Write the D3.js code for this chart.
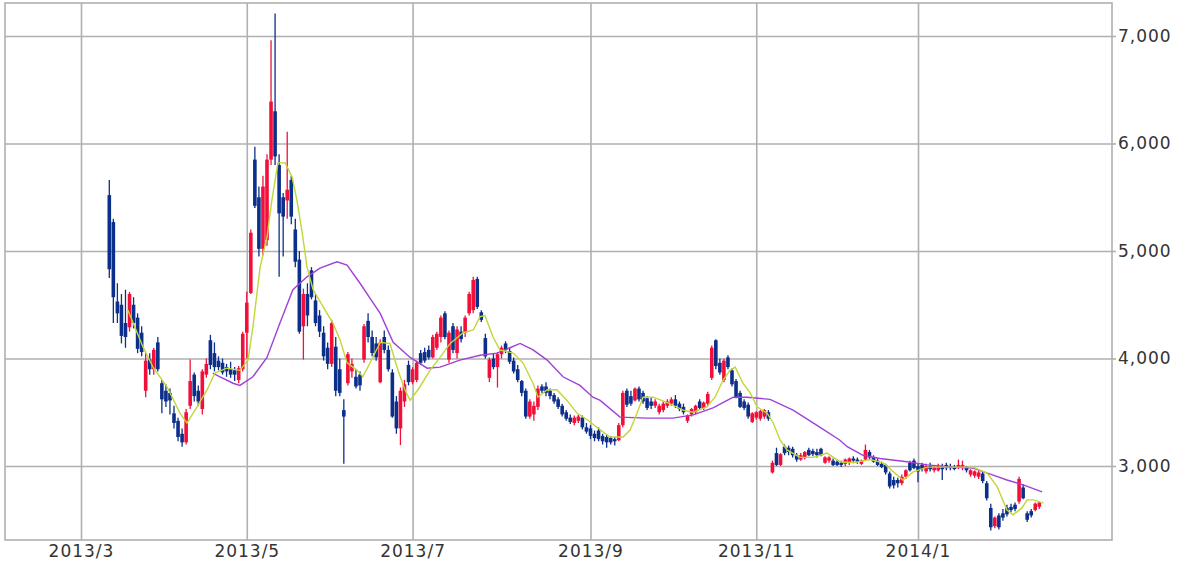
<!DOCTYPE html>
<html lang="ja">
<head>
<meta charset="utf-8">
<title>Stock chart 2013/3 - 2014/2</title>
<script src="https://cdn.jsdelivr.net/npm/d3@7"></script>
<style>
  body { margin: 0; background: #fff; }
  .axis text { font: 17px "DejaVu Sans", sans-serif; fill: #333; letter-spacing: 1px; }
  .axis path { display: none; }
  .axis line, .grid line { stroke: #b0b0b0; stroke-width: 1.6; }
  .grid path { display: none; }
  .frame { fill: none; stroke: #b0b0b0; stroke-width: 1.6; }
</style>
</head>
<body>
<script>
// trading-day index of first candle (0 = first trading day of 2013/3)
var firstDay = 7;

var opens = [5520,5270,4530,4500,4330,4290,4500,4380,4240,3700,3990,3900,4150,3770,3700,3680,3490,3420,3300,3220,
  3560,3850,3700,3530,3850,4170,4050,3980,3960,3920,3900,3890,3800,3900,4240,4610,5850,5500,5020,5100,
  5850,6300,5800,5500,5470,5660,5200,4920,4300,4600,4820,4540,4400,4240,4100,3950,4110,3900,3520,3770,
  3880,3830,3850,3990,4350,4200,4140,3780,4200,4080,3870,3600,3350,3600,3940,3780,3800,4050,4060,4080,
  4010,4100,4200,4420,3990,4300,4050,4250,4240,4420,4450,4740,4430,4190,3820,4000,3920,4040,4140,4070,
  3980,3900,3790,3700,3460,3480,3550,3740,3740,3700,3660,3620,3560,3500,3450,3400,3420,3450,3360,3350,
  3300,3330,3280,3270,3260,3250,3240,3380,3700,3650,3610,3720,3680,3630,3600,3560,3500,3520,3560,3580,
  3620,3580,3550,3420,3480,3500,3600,3540,3580,3820,4170,3960,3800,4010,3890,3790,3680,3600,3570,3410,
  3450,3440,3460,3500,2940,3120,3010,3180,3170,3160,3100,3060,3080,3150,3140,3130,3160,3030,3050,3050,
  3040,3030,3020,3030,3070,3060,3020,3060,3130,3080,3050,3020,3010,2930,2870,2870,2840,2900,3030,3050,
  3000,3010,2950,3000,2960,2960,3000,3010,3000,2990,2980,2980,2990,2920,2910,2900,2930,2840,2610,2440,
  2540,2560,2610,2620,2640,2670,2800,2560,2580,2590,2620];
var highs = [5660,5300,4700,4600,4640,4620,4570,4420,4300,4050,4050,4100,4200,3800,3760,3720,3560,3450,3350,3530,
  3990,3870,3750,3900,4000,4220,4150,4020,4000,3950,3970,3920,3930,4250,4620,5200,5970,5600,5700,5900,
  6960,7210,5900,5540,6110,5700,5300,5000,4650,4700,4850,4600,4450,4300,4150,4360,4200,4000,3620,4060,
  4000,3900,3880,4320,4420,4260,4200,4180,4260,4120,3900,3650,3730,3800,3980,3920,3980,4080,4100,4120,
  4220,4250,4400,4440,4260,4330,4300,4300,4400,4620,4760,4760,4450,4230,4010,4050,4060,4120,4160,4100,
  4010,3940,3800,3720,3620,3600,3750,3760,3780,3720,3680,3640,3580,3520,3480,3470,3480,3470,3400,3380,
  3330,3360,3300,3290,3280,3270,3400,3700,3720,3700,3730,3740,3700,3650,3640,3620,3580,3600,3620,3640,
  3660,3600,3580,3480,3540,3570,3620,3600,3690,4120,4180,4000,4000,4030,3910,3810,3700,3620,3590,3500,
  3510,3520,3530,3520,3050,3170,3120,3200,3190,3180,3120,3120,3140,3170,3160,3160,3170,3090,3090,3070,
  3060,3050,3070,3080,3090,3080,3060,3200,3150,3100,3070,3040,3020,2950,2900,2890,2920,2970,3050,3070,
  3020,3030,3020,3030,3010,3020,3020,3030,3020,3010,3060,3050,3000,2970,2960,2960,2950,2860,2650,2530,
  2560,2600,2640,2650,2660,2900,2830,2580,2600,2660,2670];
var lows = [4750,4330,4330,4140,4100,4250,4280,4050,4020,3640,3850,3850,3880,3490,3550,3480,3350,3230,3180,3200,
  3530,3600,3560,3480,3820,3900,3880,3890,3850,3830,3820,3790,3770,3880,4000,4600,5400,4950,4960,5050,
  5800,5800,4760,4950,5300,5250,4850,4230,3990,4300,4550,4300,4200,3980,3900,3920,3650,3650,3020,3750,
  3820,3720,3700,3960,4150,4020,3980,3770,4050,3880,3450,3300,3195,3550,3750,3760,3780,3940,3960,3990,
  4000,4080,4150,4180,3960,4050,4000,4150,4200,4400,4420,4460,4340,4000,3780,3900,3730,4000,4050,3950,
  3860,3780,3650,3440,3440,3420,3520,3680,3650,3620,3580,3530,3460,3420,3390,3380,3400,3340,3300,3250,
  3230,3230,3200,3170,3200,3190,3230,3360,3550,3560,3600,3600,3580,3520,3530,3540,3480,3500,3540,3560,
  3540,3510,3480,3400,3460,3480,3520,3520,3560,3800,3900,3850,3780,3900,3740,3630,3540,3520,3440,3400,
  3430,3420,3440,3420,2930,3000,3000,3100,3100,3080,3040,3050,3060,3090,3090,3080,3090,3020,3030,3000,
  3000,2990,3000,3010,3040,3020,3010,3050,3060,3030,3000,2980,2920,2790,2790,2800,2820,2880,2950,2970,
  2850,2950,2930,2950,2940,2950,2870,2960,2960,2960,2970,2960,2940,2900,2890,2880,2840,2680,2400,2420,
  2410,2490,2530,2570,2580,2650,2690,2480,2520,2580,2600];
var closes = [4830,4570,4420,4210,4200,4600,4330,4090,4060,3980,3900,4080,3900,3620,3600,3610,3400,3270,3220,3500,
  3790,3650,3600,3880,3950,3940,3920,3920,3870,3880,3850,3850,3910,4230,4520,5170,5420,5020,5600,5850,
  6390,5880,5350,5320,5570,5320,4900,4250,4600,4400,4570,4330,4250,4020,3950,4330,3700,3680,3460,4040,
  3950,3740,3750,4300,4200,4050,4010,4150,4080,3900,3460,3350,3700,3760,3780,3900,3960,3960,3980,4010,
  4200,4230,4380,4200,4240,4080,4270,4180,4380,4600,4730,4480,4360,4020,3990,3920,4040,4100,4080,3970,
  3880,3800,3680,3460,3600,3560,3720,3700,3680,3650,3600,3550,3480,3440,3410,3450,3460,3360,3320,3280,
  3260,3250,3230,3220,3220,3230,3380,3680,3570,3580,3720,3620,3600,3540,3560,3600,3560,3580,3600,3620,
  3560,3530,3500,3470,3530,3560,3540,3590,3670,4100,3930,3870,3980,3920,3760,3640,3550,3540,3460,3490,
  3500,3510,3520,3440,3030,3010,3110,3120,3130,3100,3060,3100,3130,3100,3110,3100,3100,3080,3080,3010,
  3010,3010,3060,3070,3050,3040,3050,3150,3080,3040,3010,2990,2940,2810,2820,2840,2900,2960,2960,2980,
  2950,2970,3000,2970,2990,3000,2970,2980,2980,2980,3010,3010,2960,2960,2950,2940,2860,2700,2430,2520,
  2430,2520,2550,2590,2600,2880,2700,2500,2540,2650,2660];

// moving averages: [trading day, price]
var maShort = [[11.6,4450],[15.3,4110],[17.8,3920],[21.3,3735],[24.5,3490],[26.2,3400],[28.7,3550],[31.2,3710],
  [33.1,3865],[36.1,3910],[39.3,3890],[41.3,3985],[42.5,4290],[44.3,4850],[46,5130],[47.2,5470],[48.7,5820],
  [50.5,5820],[52.2,5690],[53.4,5470],[54.7,5170],[55.9,4850],[57.4,4640],[59.9,4480],[62.3,4330],[64.1,4170],
  [65.8,3960],[68.3,3890],[69.7,3830],[71.5,3960],[74,4150],[76.4,4140],[78.4,3890],[80.1,3710],[81.4,3610],
  [83.8,3735],[86.3,3890],[88.8,4010],[91.3,4140],[94.5,4240],[97,4265],[98.7,4390],[99.9,4400],[101.9,4200],
  [103.6,4080],[106.9,4050],[109.3,3960],[111.8,3770],[113,3640],[115.3,3710],[117.7,3710],[120.2,3610],
  [122.7,3490],[125.2,3430],[127.6,3360],[130.8,3270],[134.1,3270],[135.8,3335],[137.5,3490],[139,3640],
  [141.5,3640],[145,3590],[148.9,3520],[151.4,3500],[154.8,3550],[156.8,3640],[158.8,3800],[160.5,3890],
  [161.8,3920],[163.7,3770],[165.5,3680],[167.2,3550],[169.7,3490],[171.2,3400],[172.9,3240],[174.6,3150],
  [177.8,3080],[181.1,3080],[184.5,3120],[187.7,3040],[191,3030],[195.2,3060],[198.4,3030],[200.8,2950],
  [203.3,2870],[205.8,2945],[209.3,2990],[215.7,2990],[220.6,2990],[224.1,2935],[226.6,2805],[229,2590],
  [230.5,2545],[232.7,2610],[234,2685],[235.5,2685],[238,2655]];
var maLong = [[32.6,3865],[34.4,3830],[37.6,3770],[39.3,3750],[42.5,3830],[46,4010],[49.2,4330],[52.4,4640],
  [55.9,4760],[59.1,4840],[63.3,4900],[65.8,4870],[69,4700],[72.2,4520],[74,4420],[77.2,4150],[81.4,4010],
  [85.6,3910],[88.8,3920],[93.7,3985],[98.7,4030],[102.9,4050],[106.1,4100],[108.6,4140],[111.8,4080],
  [115.3,3985],[119.2,3830],[123.4,3750],[126.6,3640],[128.4,3610],[133.3,3455],[140,3445],[146.4,3445],
  [151.4,3475],[156.3,3540],[159.8,3610],[161.3,3640],[164.7,3640],[170.4,3620],[176.1,3520],[182.8,3360],
  [187.7,3240],[189.5,3180],[193.4,3100],[197.6,3070],[204.3,3040],[209.3,3010],[215.7,2990],[220.6,2980],
  [225.6,2915],[229,2870],[233,2825],[237.7,2760]];

// month ticks (trading-day index of first day of month)
var monthDays = [0, 41, 82, 126, 167, 207];
var monthLabels = ["2013/3", "2013/5", "2013/7", "2013/9", "2013/11", "2014/1"];
var priceTicks = [3000, 4000, 5000, 6000, 7000];

var W = 1200, H = 566;
var plot = {left: 5, right: 1112, top: 3, bottom: 540};

var x = d3.scaleLinear().domain([0, 207]).range([81, 918]);
var y = d3.scaleLinear().domain([3000, 7000]).range([466, 36]);

var svg = d3.select("body").append("svg")
  .attr("width", W)
  .attr("height", H);

// horizontal grid
svg.append("g")
  .attr("class", "grid")
  .attr("transform", "translate(" + plot.right + ",0)")
  .call(d3.axisLeft(y).tickValues(priceTicks).tickSize(plot.right - plot.left).tickFormat(""));

// vertical grid
svg.append("g")
  .attr("class", "grid")
  .attr("transform", "translate(0," + plot.bottom + ")")
  .call(d3.axisTop(x).tickValues(monthDays).tickSize(plot.bottom - plot.top).tickFormat(""));

svg.append("rect")
  .attr("class", "frame")
  .attr("x", plot.left)
  .attr("y", plot.top)
  .attr("width", plot.right - plot.left)
  .attr("height", plot.bottom - plot.top);

// right price axis
svg.append("g")
  .attr("class", "axis")
  .attr("transform", "translate(" + plot.right + ",0)")
  .call(d3.axisRight(y).tickValues(priceTicks).tickSize(4).tickPadding(2).tickFormat(d3.format(",")));

// bottom month axis
svg.append("g")
  .attr("class", "axis")
  .attr("transform", "translate(0," + plot.bottom + ")")
  .call(d3.axisBottom(x).tickValues(monthDays).tickSize(0).tickPadding(5)
    .tickFormat(function(d, i) { return monthLabels[i]; }));

var candles = opens.map(function(o, i) {
  return {day: firstDay + i, o: o, h: highs[i], l: lows[i], c: closes[i]};
});

var up = "#f2103a", down = "#0c2f8a";
var bodyW = 3.6;

var cg = svg.append("g").attr("class", "candles");

cg.selectAll("line.wick")
  .data(candles).enter()
  .append("line")
  .attr("class", "wick")
  .attr("x1", function(d) { return x(d.day); })
  .attr("x2", function(d) { return x(d.day); })
  .attr("y1", function(d) { return y(d.h); })
  .attr("y2", function(d) { return y(d.l); })
  .attr("stroke", function(d) { return d.c >= d.o ? up : down; })
  .attr("stroke-width", 1.3);

cg.selectAll("rect.body")
  .data(candles).enter()
  .append("rect")
  .attr("class", "body")
  .attr("x", function(d) { return x(d.day) - bodyW / 2; })
  .attr("width", bodyW)
  .attr("y", function(d) { return y(Math.max(d.o, d.c)); })
  .attr("height", function(d) { return Math.max(2, Math.abs(y(d.o) - y(d.c))); })
  .attr("fill", function(d) { return d.c >= d.o ? up : down; });

var line = d3.line()
  .x(function(d) { return x(d[0]); })
  .y(function(d) { return y(d[1]); });

svg.append("path")
  .datum(maLong)
  .attr("fill", "none")
  .attr("stroke", "#a040d8")
  .attr("stroke-width", 1.4)
  .attr("d", line);

svg.append("path")
  .datum(maShort)
  .attr("fill", "none")
  .attr("stroke", "#c2d638")
  .attr("stroke-width", 1.4)
  .attr("d", line);
</script>
</body>
</html>
